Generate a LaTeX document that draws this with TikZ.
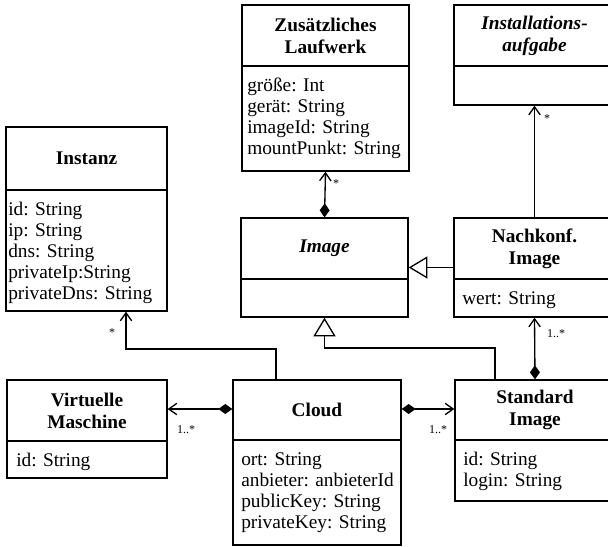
\documentclass[tikz,border=0pt]{standalone}
\usepackage{fontspec}
\setmainfont{Liberation Serif}
\usetikzlibrary{arrows.meta,fit}
\tikzset{
  umlbox/.style={draw, line width=1pt, inner sep=0pt},
  umltitle/.style={inner sep=0pt, align=center, font=\fontsize{14.5}{16.5}\selectfont\bfseries},
  umlattr/.style={inner sep=0pt, align=left, anchor=north west, font=\fontsize{14.5}{15.75}\selectfont},
  mult/.style={inner sep=0pt, font=\fontsize{9}{10}\selectfont},
  conn/.style={line width=1pt},
  assoc/.style={conn, -{Straight Barb[length=6pt,width=8.5pt,line width=1pt]}},
  comp/.style={conn, {Diamond[length=10.5pt,width=7.5pt]}-{Straight Barb[length=6pt,width=8.5pt,line width=1pt]}},
  gen/.style={conn, -{Triangle[open,length=14pt,width=16.5pt,fill=white,line width=1pt]}},
}
% #1 name, #2 x1, #3 y1, #4 x2, #5 ydiv, #6 y2, #7 title, #8 attrs, #9 attr inset
\newcommand{\umlclass}[9]{%
  \node[umlbox, fit={(#2,#3) (#4,#6)}] (#1) {};
  \draw[line width=1pt] (#2,#5) -- (#4,#5);
  \node[umltitle] (#1-t) at ({(#2+#4)/2},{(#3+#5)/2}) {#7};
  \if\relax\detokenize{#8}\relax\else
    \node[umlattr] (#1-a) at ({#2+#9},{#5+12}) {#8};
  \fi
}
\begin{document}
\begin{tikzpicture}[x=0.75pt,y=-0.75pt]
\useasboundingbox (0,0) rectangle (608,547);
\fill[white] (0,0) rectangle (608,547);
\clip (0,0) rectangle (608,547);

\umlclass{lauf}{242}{5}{409}{66}{171}{Zusätzliches\\Laufwerk}{größe: Int\\gerät: String\\imageId: String\\mountPunkt: String}{5}
\umlclass{inst}{454}{5}{615}{66}{105}{\itshape Installations-\\\itshape aufgabe}{}{8}
\umlclass{instanz}{6}{127}{167}{190}{311}{Instanz}{id: String\\ip: String\\dns: String\\privateIp:String\\privateDns: String}{2}
\umlclass{image}{241}{218}{408}{279}{317}{\itshape Image}{}{8}
\umlclass{nach}{454}{218}{615}{279}{317}{Nachkonf.\\Image}{wert: String}{8}
\umlclass{vm}{7}{380}{167}{441}{478}{Virtuelle\\Maschine}{id: String}{9}
\umlclass{cloud}{233}{380}{401}{440}{545}{Cloud}{ort: String\\anbieter: anbieterId\\publicKey: String\\privateKey: String}{8}
\umlclass{std}{455}{380}{615}{440}{501}{Standard\\Image}{id: String\\login: String}{8}

% composition Image -> Zusaetzliches Laufwerk
\draw[comp] (image.north) -- (lauf.south);
\node[mult] (m1) at (336,184) {*};
% Nachkonf -> Installationsaufgabe
\draw[assoc] (nach.north) -- (inst.south);
\node[mult] (m2) at (547,119) {*};
% generalization Nachkonf -> Image
\draw[gen] (nach.west) -- (image.east);
% generalization Standard -> Image
\coordinate (g1) at (495,348);
\draw[gen] (std.north -| g1) -- (g1) -| (image.south);
% composition Standard -> Nachkonf
\draw[comp] (std.north) -- (nach.south);
\node[mult] (m3) at (556,334) {1..*};
% Cloud -> Instanz
\coordinate (c1) at (276,349);
\coordinate (c2) at (126,349);
\draw[assoc] (cloud.north -| c1) -- (c1) -- (c2) -- (instanz.south -| c2);
\node[mult] (m4) at (112,333) {*};
% Cloud -> VM
\coordinate (h) at (0,409);
\draw[comp] (cloud.west |- h) -- (vm.east |- h);
\node[mult] (m5) at (186,430) {1..*};
% Cloud -> Standard Image
\draw[comp] (cloud.east |- h) -- (std.west |- h);
\node[mult] (m6) at (438,430) {1..*};
\end{tikzpicture}
\end{document}
